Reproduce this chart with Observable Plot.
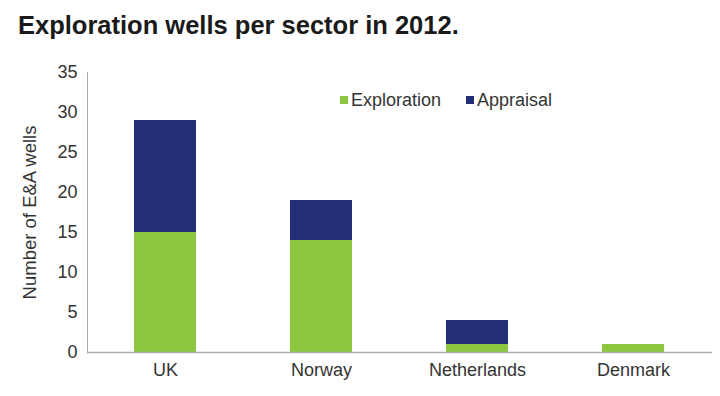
<!DOCTYPE html>
<html>
<head>
<meta charset="utf-8">
<script src="https://cdn.jsdelivr.net/npm/d3@7"></script>
<script src="https://cdn.jsdelivr.net/npm/@observablehq/plot@0.6"></script>
<style>
  html, body { margin: 0; padding: 0; background: #fff; }
  #wrap { position: relative; width: 720px; height: 396px; font-family: "Liberation Sans", Arial, sans-serif; }
  #title { position: absolute; left: 18px; top: 11px; font-size: 25.5px; font-weight: bold; color: #1a1a1a; white-space: nowrap; }
  #chart { position: absolute; left: 0; top: 55px; }
  #legend { position: absolute; left: 340px; top: 90px; font-size: 18px; color: #333; display: flex; gap: 25px; }
  #legend span.sw { display: inline-block; width: 8px; height: 8px; margin-right: 3px; vertical-align: 2px; }
</style>
</head>
<body>
<div id="wrap">
  <div id="title">Exploration wells per sector in 2012.</div>
  <div id="chart"></div>
  <div id="legend"></div>
</div>
<script>
const sectors = ["UK", "Norway", "Netherlands", "Denmark"];
const seriesNames = ["Exploration", "Appraisal"];
const exploration = [15, 14, 1, 1];
const appraisal = [14, 5, 3, 0];
const yTicks = [0, 5, 10, 15, 20, 25, 30, 35];
const colors = ["#8dc63f", "#222e76"];

const data = [];
sectors.forEach((s, i) => {
  data.push({sector: s, type: seriesNames[0], value: exploration[i]});
  data.push({sector: s, type: seriesNames[1], value: appraisal[i]});
});

const chart = Plot.plot({
  width: 720,
  height: 341,
  marginTop: 17,
  marginBottom: 44,
  marginLeft: 87,
  marginRight: 8,
  style: {fontFamily: "Liberation Sans, Arial, sans-serif", fontSize: "18px", color: "#333"},
  x: {domain: sectors, label: null, paddingInner: 0.6, paddingOuter: 0.3, tickSize: 0},
  y: {domain: [0, 35], ticks: yTicks, label: null, tickSize: 0},
  color: {domain: seriesNames, range: colors},
  marks: [
    Plot.barY(data, {x: "sector", y: "value", fill: "type"}),
    Plot.frame({anchor: "left", stroke: "#aaa"}),
    Plot.ruleY([0], {stroke: "#aaa", strokeWidth: 1.5}),
    Plot.axisY({ticks: yTicks, tickSize: 0, tickPadding: 10, label: null, fontSize: 18}),
    Plot.axisX({tickSize: 0, tickPadding: 11, label: null, fontSize: 18}),
    Plot.text(["Number of E&A wells"], {frameAnchor: "left", textAnchor: "middle", dx: -57, dy: 0, rotate: -90, fontSize: 18.5, fill: "#333"})
  ]
});
document.getElementById("chart").appendChild(chart);

const legend = document.getElementById("legend");
seriesNames.forEach((n, i) => {
  const d = document.createElement("div");
  d.innerHTML = `<span class="sw" style="background:${colors[i]}"></span>${n}`;
  legend.appendChild(d);
});
</script>
</body>
</html>
